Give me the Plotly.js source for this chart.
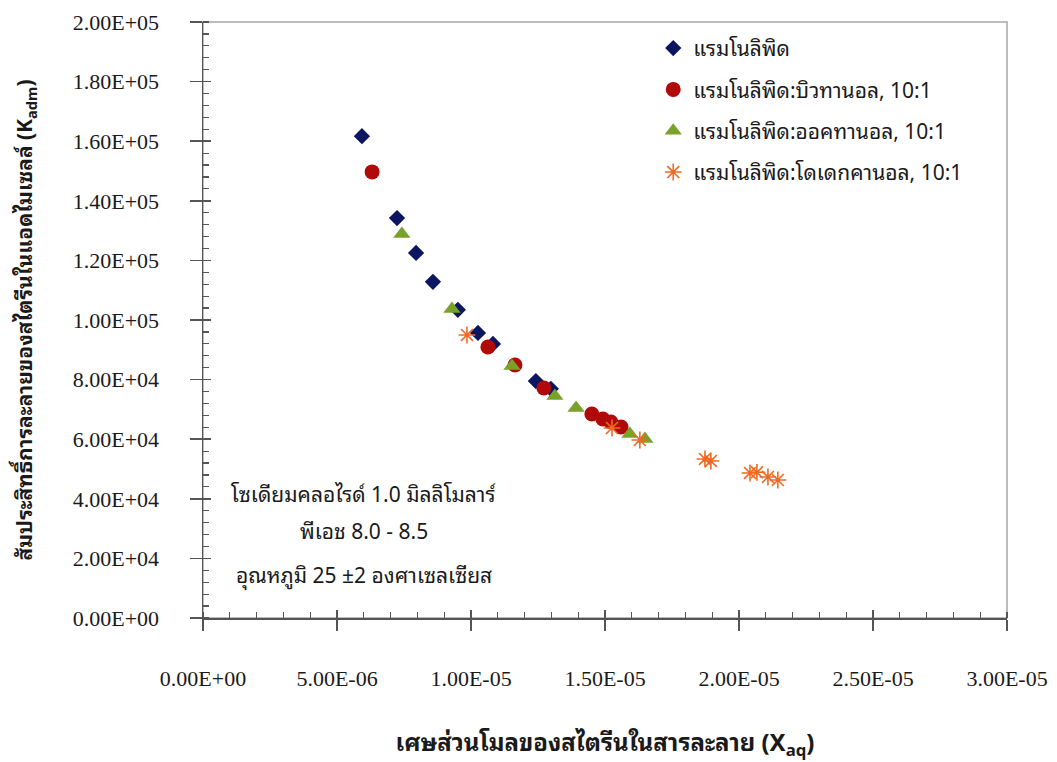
<!DOCTYPE html>
<html>
<head>
<meta charset="utf-8">
<script src="https://cdn.plot.ly/plotly-3.0.1.min.js"></script>
<style>
html,body{margin:0;padding:0;background:#fff;}
#chart{width:1057px;height:762px;}
</style>
</head>
<body>
<div id="chart"></div>
<script>
// ---- data ----
const seriesNames = [
  "แรมโนลิพิด",
  "แรมโนลิพิด:บิวทานอล, 10:1",
  "แรมโนลิพิด:ออคทานอล, 10:1",
  "แรมโนลิพิด:โดเดกคานอล, 10:1"
];

const rhamX = [5.93e-6, 7.24e-6, 7.95e-6, 8.58e-6, 9.51e-6, 10.26e-6, 10.82e-6, 12.42e-6, 12.98e-6];
const rhamY = [161700, 134200, 122500, 112800, 103400, 95650, 91950, 79500, 76900];

const butX = [6.31e-6, 10.63e-6, 11.64e-6, 12.72e-6, 14.51e-6, 14.92e-6, 15.22e-6, 15.60e-6];
const butY = [149700, 90950, 84900, 77200, 68460, 66780, 65780, 64100];

const octX = [7.42e-6, 9.29e-6, 11.53e-6, 13.13e-6, 13.92e-6, 15.93e-6, 16.49e-6];
const octY = [128900, 103700, 84570, 74500, 70470, 61750, 60070];

const dodX = [9.85e-6, 15.26e-6, 16.30e-6, 18.73e-6, 18.95e-6, 20.41e-6, 20.67e-6, 21.08e-6, 21.45e-6];
const dodY = [94970, 63760, 59730, 53360, 52690, 48660, 48900, 47320, 46310];

const xTickVals = [0, 5e-6, 1e-5, 1.5e-5, 2e-5, 2.5e-5, 3e-5];
const xTickText = ["0.00E+00", "5.00E-06", "1.00E-05", "1.50E-05", "2.00E-05", "2.50E-05", "3.00E-05"];
const yTickVals = [0, 20000, 40000, 60000, 80000, 100000, 120000, 140000, 160000, 180000, 200000];
const yTickText = ["0.00E+00", "2.00E+04", "4.00E+04", "6.00E+04", "8.00E+04", "1.00E+05",
                   "1.20E+05", "1.40E+05", "1.60E+05", "1.80E+05", "2.00E+05"];

const noteLines = [
  "โซเดียมคลอไรด์ 1.0 มิลลิโมลาร์",
  "พีเอช 8.0 - 8.5",
  "อุณหภูมิ 25 ±2 องศาเซลเซียส"
];

const xTitle = "เศษส่วนโมลของสไตรีนในสารละลาย (X<sub>aq</sub>)";
const yTitle = "สัมประสิทธิ์การละลายของสไตรีนในแอดไมเซลล์ (K<sub>adm</sub>)";

// ---- drawing ----
const thaiFont = "Tahoma, 'Noto Sans Thai Looped', 'Noto Sans Thai', 'Noto Sans', 'DejaVu Sans', sans-serif";
const serifFont = "'Liberation Serif', 'Times New Roman', serif";

const traces = [
  {x: rhamX, y: rhamY, name: seriesNames[0], mode: "markers", type: "scatter", legendgroup: "a",
   marker: {symbol: "diamond", size: 12.5, color: "#0b1560"}},
  {x: butX, y: butY, name: seriesNames[1], mode: "markers", type: "scatter", legendgroup: "b",
   marker: {symbol: "circle", size: 15, color: "#b00a0a"}},
  {x: octX, y: octY, name: seriesNames[2], mode: "markers", type: "scatter", legendgroup: "c",
   marker: {symbol: "triangle-up", size: 15, color: "#78a22a"}},
  {x: dodX, y: dodY, name: seriesNames[3], mode: "markers", type: "scatter", legendgroup: "d",
   marker: {symbol: "asterisk-open", size: 14, color: "#ee6a22", line: {color: "#ee6a22", width: 1.6}}},
  {x: [], y: [], xaxis: "x2", yaxis: "y2", showlegend: false, hoverinfo: "skip", type: "scatter", mode: "markers"}
];

const axisColor = "#555555";

const layout = {
  width: 1057, height: 762,
  paper_bgcolor: "#ffffff", plot_bgcolor: "#ffffff",
  margin: {l: 203, r: 50, t: 22, b: 144},
  showlegend: true,
  legend: {
    x: 0.56, y: 0.99, xanchor: "left", yanchor: "top",
    font: {family: thaiFont, size: 21, color: "#1a1a1a"},
    tracegroupgap: 11, traceorder: "grouped",
    bgcolor: "rgba(0,0,0,0)", itemwidth: 30
  },
  xaxis: {
    range: [0, 3e-5], showgrid: false, zeroline: false,
    showline: true, linecolor: axisColor, linewidth: 1.5,
    tickmode: "array", tickvals: xTickVals, ticktext: xTickText,
    ticks: "outside", ticklen: 11, tickwidth: 1.5, tickcolor: axisColor,
    ticklabelstandoff: 29,
    tickfont: {family: serifFont, size: 22, color: "#1a1a1a"},
    minor: {dtick: 1e-6, tick0: 0, ticks: "inside", ticklen: 6, tickwidth: 1.2, tickcolor: axisColor},
    title: {text: xTitle, font: {family: thaiFont, size: 24, color: "#1a1a1a", weight: "bold"}, standoff: 46},
    fixedrange: true
  },
  yaxis: {
    range: [0, 200000], showgrid: false, zeroline: false,
    showline: true, linecolor: axisColor, linewidth: 1.5,
    tickmode: "array", tickvals: yTickVals, ticktext: yTickText,
    ticks: "outside", ticklen: 12, tickwidth: 1.5, tickcolor: axisColor,
    ticklabelstandoff: 26,
    tickfont: {family: serifFont, size: 22, color: "#1a1a1a"},
    minor: {dtick: 4000, tick0: 0, ticks: "inside", ticklen: 6, tickwidth: 1.2, tickcolor: axisColor},
    title: {text: yTitle, font: {family: thaiFont, size: 21, color: "#1a1a1a", weight: "bold"}, standoff: 34},
    fixedrange: true
  },
  xaxis2: {
    overlaying: "x", anchor: "y2", range: [0, 3e-5], showgrid: false, zeroline: false, showline: false,
    tickmode: "array", tickvals: xTickVals, ticks: "inside", ticklen: 8, tickwidth: 1.5,
    tickcolor: axisColor, showticklabels: false, side: "bottom", fixedrange: true
  },
  yaxis2: {
    overlaying: "y", anchor: "x2", range: [0, 200000], showgrid: false, zeroline: false, showline: false,
    tickmode: "array", tickvals: yTickVals, ticks: "inside", ticklen: 8, tickwidth: 1.5,
    tickcolor: axisColor, showticklabels: false, side: "left", fixedrange: true
  },
  shapes: [
    {type: "rect", xref: "paper", yref: "paper", x0: 0, x1: 1, y0: 0, y1: 1,
     line: {color: "#a6a6a6", width: 1.5}, layer: "below"}
  ],
  annotations: noteLines.map((t, i) => ({
    text: t, xref: "paper", yref: "paper", x: 0.2, y: [0.21, 0.148, 0.074][i],
    xanchor: "center", yanchor: "middle", showarrow: false,
    font: {family: thaiFont, size: 21, color: "#1a1a1a"}
  }))
};

Plotly.newPlot("chart", traces, layout, {displayModeBar: false, staticPlot: true});
</script>
</body>
</html>
